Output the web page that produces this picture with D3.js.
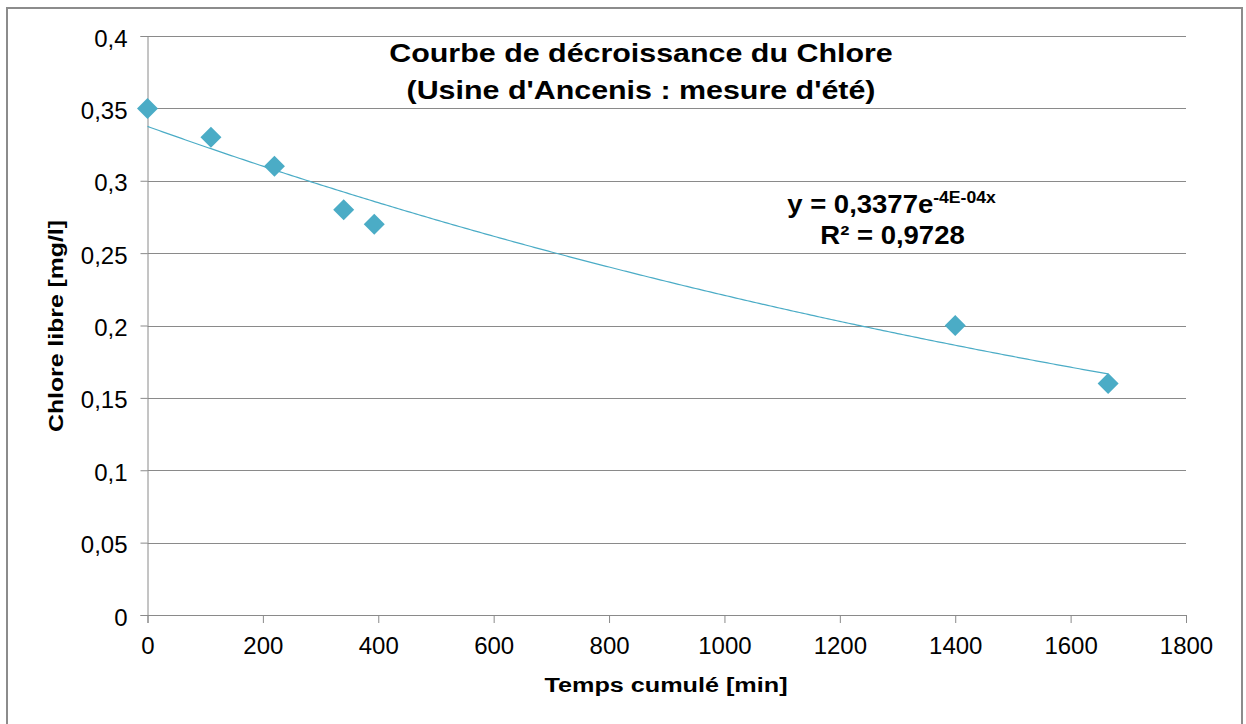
<!DOCTYPE html>
<html><head><meta charset="utf-8">
<script src="https://cdn.jsdelivr.net/npm/d3@7"></script>
<style>
html,body{margin:0;padding:0;background:#fff;}
text{font-family:"Liberation Sans",Arial,sans-serif;}
</style></head>
<body><svg id="c" width="1246" height="724"></svg>
<script>
const timeMin = [0, 110, 220, 340, 393, 1400, 1665];
const chlore = [0.35, 0.33, 0.31, 0.28, 0.27, 0.2, 0.16];
const xTicks = [0, 200, 400, 600, 800, 1000, 1200, 1400, 1600, 1800];
const yTicks = [0, 0.05, 0.1, 0.15, 0.2, 0.25, 0.3, 0.35, 0.4];
const titleLines = ["Courbe de décroissance du Chlore", "(Usine d'Ancenis : mesure d'été)"];
const xTitle = "Temps cumulé [min]";
const yTitle = "Chlore libre [mg/l]";
const eqBase = "y = 0,3377e", eqExp = "-4E-04x", r2Text = "R² = 0,9728";

const svg = d3.select("#c");
const color = "#4bacc6", gridC = "#8a8a8a";
svg.append("rect").attr("x",7).attr("y",8).attr("width",1235).attr("height",730)
  .attr("fill","#fff").attr("stroke","#8c8c8c").attr("stroke-width",2);

const x = d3.scaleLinear().domain([0,1800]).range([147.5,1186]);
const y = d3.scaleLinear().domain([0,0.4]).range([615,36]);

svg.append("g").selectAll("line").data(yTicks.filter(d=>d>0)).join("line")
  .attr("x1",x(0)).attr("x2",x(1800)).attr("y1",d=>Math.round(y(d))+0.5).attr("y2",d=>Math.round(y(d))+0.5)
  .attr("stroke",gridC).attr("stroke-width",1);

const fmt = d => String(d).replace(".", ",");
const yAxis = svg.append("g").attr("transform",`translate(${x(0)},0)`)
  .call(d3.axisLeft(y).tickValues(yTicks).tickSize(7).tickPadding(13).tickFormat(fmt));
const xAxis = svg.append("g").attr("transform",`translate(0,${y(0)})`)
  .call(d3.axisBottom(x).tickValues(xTicks).tickSize(8).tickPadding(14).tickFormat(d=>d));
[xAxis,yAxis].forEach(a=>{
  a.select(".domain").attr("stroke",gridC);
  a.selectAll(".tick line").attr("stroke",gridC);
  a.selectAll("text").attr("font-size",24).attr("fill","#000").attr("font-family","Liberation Sans, Arial, sans-serif");
});
yAxis.selectAll("text").attr("dy","0.42em");

// exponential regression fitted from the data
const lx = timeMin, ly = chlore.map(Math.log);
const mx = d3.mean(lx), my = d3.mean(ly);
const b = d3.sum(lx.map((v,i)=>(v-mx)*(ly[i]-my))) / d3.sum(lx.map(v=>(v-mx)**2));
const a = Math.exp(my - b*mx);
const xs = d3.range(0, d3.max(timeMin)+1, 5);
svg.append("path").datum(xs)
  .attr("d", d3.line().x(d=>x(d)).y(d=>y(a*Math.exp(b*d))))
  .attr("fill","none").attr("stroke",color).attr("stroke-width",1.2);

svg.append("g").selectAll("path").data(timeMin.map((t,i)=>[t,chlore[i]])).join("path")
  .attr("transform",d=>`translate(${x(d[0])},${y(d[1])})`)
  .attr("d","M0,-10.5L10.5,0L0,10.5L-10.5,0Z").attr("fill",color);

function label(cx, cy, sx, size, rot) {
  return svg.append("g").attr("transform",`translate(${cx},${cy}) rotate(${rot||0}) scale(${sx},1)`)
    .append("text").attr("text-anchor","middle").attr("font-size",size).attr("font-weight","bold");
}
titleLines.forEach((t,i)=>label(641, 62+i*37, 1.17, 26).text(t));

const eq = label(891.5, 212.5, 1.1, 25);
eq.append("tspan").text(eqBase);
eq.append("tspan").attr("font-size",16).attr("dy",-10).text(eqExp);
label(892.5, 244, 1.1, 25).text(r2Text);

label(666, 692, 1.2, 21).text(xTitle);
label(62.5, 326, 1.18, 21, -90).text(yTitle);
</script></body></html>
